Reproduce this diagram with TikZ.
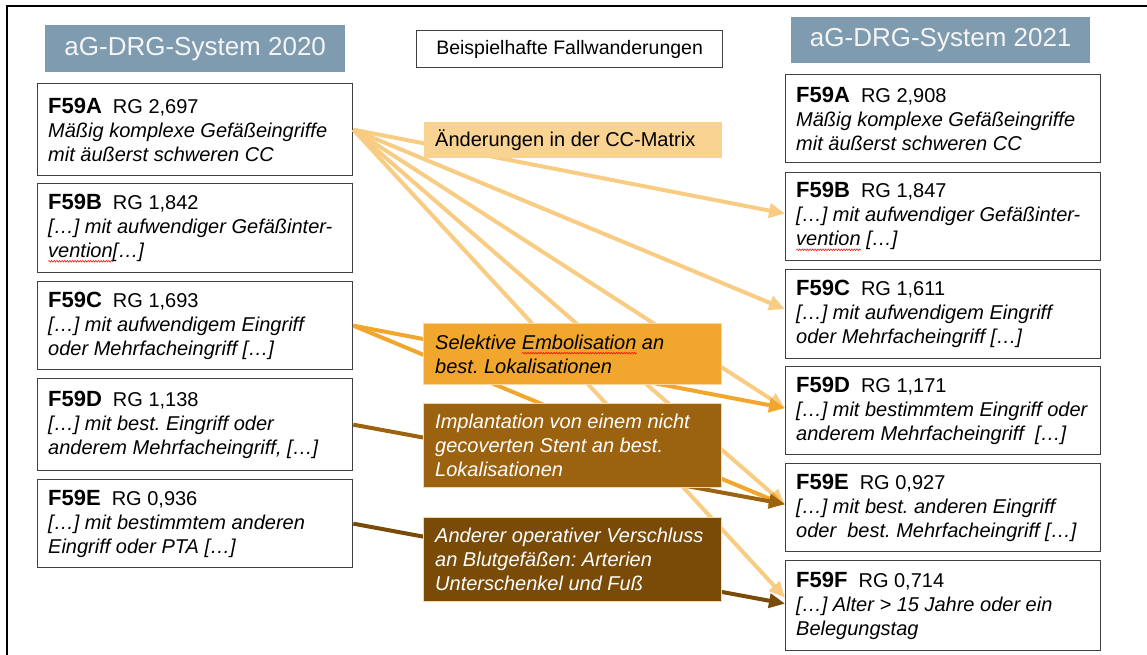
\documentclass[tikz,border=0pt]{standalone}
\usepackage{fontspec}
\setmainfont{Liberation Sans}
\usetikzlibrary{arrows.meta,decorations.pathmorphing}
\frenchspacing

\definecolor{hdr}{RGB}{127,155,176}
\definecolor{lightline}{RGB}{248,204,130}
\definecolor{lightfill}{RGB}{249,211,146}
\definecolor{midor}{RGB}{241,167,45}
\definecolor{brownA}{RGB}{155,98,16}
\definecolor{brownB}{RGB}{121,75,6}
\definecolor{paleedge}{RGB}{250,214,160}
\definecolor{frameg}{RGB}{64,64,64}

% red wavy spell-check underline below a word
\newsavebox\wavebox
\newcommand\spellwave[1]{\sbox\wavebox{#1}%
  \makebox[0pt][l]{\tikz[x=1pt,y=1pt,baseline=0pt]
    \draw[red, line width=0.5pt, decorate, decoration={zigzag, amplitude=0.9pt, segment length=2.6pt}]
      (0,-4) -- (\the\wd\wavebox,-4);}%
  \usebox\wavebox}

\newcommand\code[1]{{\fontsize{22}{24}\selectfont\bfseries #1}\hspace{11pt}}

\begin{document}
\begin{tikzpicture}[x=1pt,y=-1pt,
  fbox/.style={draw=frameg, line width=1.3pt, fill=white, minimum width=315pt,
    anchor=north west, inner sep=0pt},
  ftext/.style={anchor=west, align=left, inner sep=0pt, font=\fontsize{20}{24}\selectfont},
  hdrbox/.style={fill=hdr, anchor=north west, inner sep=0pt, text=white!96!black,
    font=\fontsize{26}{30}\selectfont},
  lbox/.style={minimum width=298pt, anchor=north west, inner sep=0pt, draw=paleedge, line width=1pt},
  ltext/.style={anchor=west, align=left, inner sep=0pt, font=\fontsize{20}{24}\selectfont\itshape},
  link/.style={line width=4pt, -{Triangle[length=16pt,width=14pt]}}
]
\useasboundingbox (0,0) rectangle (1147,655);

% page frame (top and left edge)
\draw[line width=2.4pt] (7.2,655) -- (7.2,6.2) -- (1147,6.2);

% column headers and title
\node[hdrbox, minimum width=300pt, minimum height=47pt] (hL) at (45,25) {aG-DRG-System 2020};
\node[hdrbox, minimum width=299pt, minimum height=46pt] (hR) at (791,17) {aG-DRG-System 2021};
\node[draw=frameg, line width=1.2pt, anchor=north west, inner sep=0pt,
      minimum width=306pt, minimum height=37pt, font=\fontsize{19.5}{22}\selectfont]
      (title) at (416,30) {Beispielhafte Fallwanderungen};

% 2020 groups
\node[fbox, minimum height=92pt] (aL) at (37,83) {};
\node[fbox, minimum height=89pt] (bL) at (37,183) {};
\node[fbox, minimum height=88pt] (cL) at (37,281) {};
\node[fbox, minimum height=92pt] (dL) at (37,378) {};
\node[fbox, minimum height=88pt] (eL) at (37,479) {};

% 2021 groups
\node[fbox, minimum height=88pt] (aR) at (785,74) {};
\node[fbox, minimum height=88pt] (bR) at (785,172) {};
\node[fbox, minimum height=89pt] (cR) at (785,269) {};
\node[fbox, minimum height=88pt] (dR) at (785,366) {};
\node[fbox, minimum height=88pt] (eR) at (785,463) {};
\node[fbox, minimum height=90pt] (fR) at (785,560) {};

% case migrations
\draw[link, lightline] (aL.east) -- ([yshift=3pt]bR.west);
\draw[link, lightline] (aL.east) -- ([yshift=5pt]cR.west);
\draw[link, lightline] (aL.east) -- ([yshift=2.5pt]dR.west);
\draw[link, lightline] (aL.east) -- ([yshift=3pt]eR.west);
\draw[link, lightline] (aL.east) -- ([yshift=8pt]fR.west);
\draw[link, midor] (cL.east) -- ([yshift=2.5pt]dR.west);
\draw[link, midor] (cL.east) -- ([yshift=2.5pt]eR.west);
\draw[link, brownA] (dL.east) -- ([yshift=3.5pt]eR.west);
\draw[link, brownB] (eL.east) -- ([yshift=2pt]fR.west);

% reasons
\node[lbox, draw=none, fill=lightfill, minimum height=36pt] (lA) at (423,122) {};
\node[lbox, fill=midor, minimum height=61pt] (lB) at (423,323) {};
\node[lbox, fill=brownA, minimum height=84pt] (lC) at (423,403) {};
\node[lbox, fill=brownB, minimum height=84pt] (lD) at (423,517) {};

\node[ltext, font=\fontsize{20}{24}\selectfont] (lAt) at ([xshift=12pt]lA.west) {Änderungen in der CC-Matrix};
\node[ltext] (lBt) at ([xshift=12pt]lB.west) {Selektive \spellwave{Embolisation} an\\best. Lokalisationen};
\node[ltext, text=white] (lCt) at ([xshift=12pt]lC.west) {Implantation von einem nicht\\gecoverten Stent an best.\\Lokalisationen};
\node[ltext, text=white] (lDt) at ([xshift=12pt]lD.west) {Anderer operativer Verschluss\\an Blutgefäßen: Arterien\\Unterschenkel und Fuß};

% group texts 2020
\node[ftext] (aLt) at ([xshift=11pt]aL.west) {\code{F59A}RG 2,697\\\textit{Mäßig komplexe Gefäßeingriffe}\\\textit{mit äußerst schweren CC}};
\node[ftext] (bLt) at ([xshift=11pt]bL.west) {\code{F59B}RG 1,842\\\textit{[…] mit aufwendiger Gefäßinter-}\\\textit{\spellwave{vention}[…]}};
\node[ftext] (cLt) at ([xshift=11pt]cL.west) {\code{F59C}RG 1,693\\\textit{[…] mit aufwendigem Eingriff}\\\textit{oder Mehrfacheingriff […]}};
\node[ftext] (dLt) at ([xshift=11pt]dL.west) {\code{F59D}RG 1,138\\\textit{[…] mit best. Eingriff oder}\\\textit{anderem Mehrfacheingriff, […]}};
\node[ftext] (eLt) at ([xshift=11pt]eL.west) {\code{F59E}RG 0,936\\\textit{[…] mit bestimmtem anderen}\\\textit{Eingriff oder PTA […]}};

% group texts 2021
\node[ftext] (aRt) at ([xshift=11pt]aR.west) {\code{F59A}RG 2,908\\\textit{Mäßig komplexe Gefäßeingriffe}\\\textit{mit äußerst schweren CC}};
\node[ftext] (bRt) at ([xshift=11pt]bR.west) {\code{F59B}RG 1,847\\\textit{[…] mit aufwendiger Gefäßinter-}\\\textit{\spellwave{vention} […]}};
\node[ftext] (cRt) at ([xshift=11pt]cR.west) {\code{F59C}RG 1,611\\\textit{[…] mit aufwendigem Eingriff}\\\textit{oder Mehrfacheingriff […]}};
\node[ftext] (dRt) at ([xshift=11pt]dR.west) {\code{F59D}RG 1,171\\\textit{[…] mit bestimmtem Eingriff oder}\\\textit{anderem Mehrfacheingriff\ \ […]}};
\node[ftext] (eRt) at ([xshift=11pt]eR.west) {\code{F59E}RG 0,927\\\textit{[…] mit best. anderen Eingriff}\\\textit{oder\ \ best. Mehrfacheingriff […]}};
\node[ftext] (fRt) at ([xshift=11pt]fR.west) {\code{F59F}RG 0,714\\\textit{[…] Alter > 15 Jahre oder ein}\\\textit{Belegungstag}};
\end{tikzpicture}
\end{document}
